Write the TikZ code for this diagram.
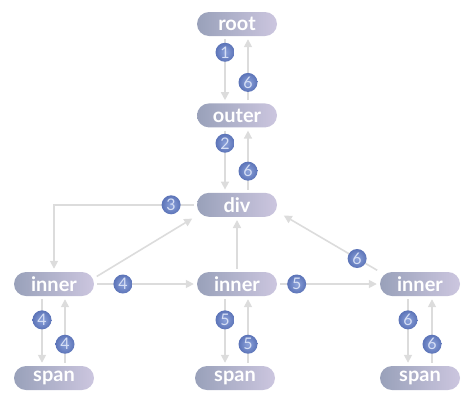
\documentclass[tikz,border=0pt]{standalone}
\usepackage{fontspec}
\setmainfont{Lato}
\usepackage{tikz}
\usetikzlibrary{arrows.meta,positioning}

\definecolor{pillL}{HTML}{99A1BA}
\definecolor{pillR}{HTML}{CCC6DF}
\definecolor{edge}{HTML}{DCDCDC}
\definecolor{ballIn}{HTML}{8CA2DA}
\definecolor{ballOut}{HTML}{5C74B8}
\definecolor{digit}{HTML}{D6DFF5}

\begin{document}
\begin{tikzpicture}[x=1pt, y=1pt, >={Triangle[length=8pt,width=8pt]},
  tag/.style={rounded corners=12pt, minimum width=80pt, minimum height=24pt,
    left color=pillL, right color=pillR, text=white,
    font=\fontsize{20}{20}\selectfont\bfseries, inner sep=0pt},
  flow/.style={->, draw=edge, line width=1.6pt, shorten >=3pt, shorten <=3pt},
  num/.style={circle, inner sep=0pt, minimum size=19pt,
    inner color=ballIn, outer color=ballOut, text=digit,
    font=\fontsize{16}{16}\selectfont}]
  \useasboundingbox (0,0) rectangle (474,-408);

  \node[tag] (root) at (237,-24) {root};
  \node[tag, below=67pt of root] (outer) {outer};
  \node[tag, below=65pt of outer] (div) {div};
  \node[tag] (innerM) at (237,-284) {inner};
  \node[tag] (innerL) at (54,-284) {inner};
  \node[tag] (innerR) at (420,-284) {inner};
  \node[tag] (spanL) at (54,-378) {span};
  \node[tag] (spanM) at (235,-378) {span};
  \node[tag] (spanR) at (420,-378) {span};

  % down the tree
  \draw[flow] ([xshift=-12pt]root.south) -- node[num, pos=0.24] {1} ([xshift=-12pt]outer.north);
  \draw[flow] ([xshift=-12pt]outer.south) -- node[num, pos=0.24] {2} ([xshift=-12pt]div.north);
  \draw[flow] (div.west) -| node[num, pos=0.09] {3} (innerL.north);
  \draw[flow] ([xshift=-12pt]innerL.south) -- node[num, pos=0.34] {4} ([xshift=-12pt]spanL.north);
  \draw[flow] ([xshift=-12pt]innerM.south) -- node[num, pos=0.34] {5} ([xshift=-10pt]spanM.north);
  \draw[flow] ([xshift=-12pt]innerR.south) -- node[num, pos=0.34] {6} ([xshift=-12pt]spanR.north);

  % back up
  \draw[flow] ([xshift=11pt]spanL.north) -- node[num, pos=0.31] {4} ([xshift=11pt]innerL.south);
  \draw[flow] ([xshift=13pt]spanM.north) -- node[num, pos=0.31] {5} ([xshift=11pt]innerM.south);
  \draw[flow] ([xshift=12pt]spanR.north) -- node[num, pos=0.31] {6} ([xshift=12pt]innerR.south);
  \draw[flow] ([yshift=6pt]innerL.east) -- ([xshift=-2pt]div.south west);
  \draw[flow] (innerL.east) -- node[num, pos=0.28] {4} (innerM.west);
  \draw[flow] (innerM.north) -- (div.south);
  \draw[flow] (innerM.east) -- node[num, pos=0.19] {5} (innerR.west);
  \draw[flow] (innerR.north west) -- node[num, pos=0.23] {6} ([xshift=4pt,yshift=3pt]div.south east);
  \draw[flow] ([xshift=11pt]div.north) -- node[num, pos=0.33] {6} ([xshift=11pt]outer.south);
  \draw[flow] ([xshift=11pt]outer.north) -- node[num, pos=0.31] {6} ([xshift=11pt]root.south);
\end{tikzpicture}
\end{document}
